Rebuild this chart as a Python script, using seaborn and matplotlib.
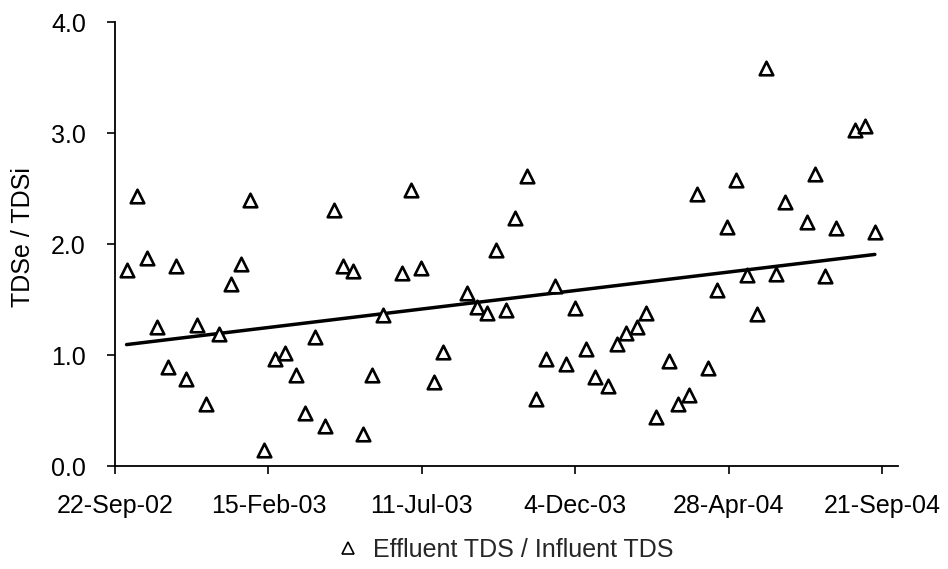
import datetime as dt

import matplotlib
matplotlib.use("Agg")
import matplotlib.pyplot as plt
import matplotlib.dates as mdates
from matplotlib.ticker import FixedLocator, FuncFormatter
import numpy as np
import pandas as pd
import seaborn as sns

# Sampling days, counted from 22 Sep 2002
start_date = dt.date(2002, 9, 22)
sample_day = [11, 21, 30, 40, 50, 58, 68, 78, 87, 99,
              110, 120, 128, 142, 152, 162, 172, 181, 190, 200,
              208, 217, 226, 236, 245, 255, 273, 282, 291, 304,
              312, 335, 344, 354, 363, 372, 381, 392, 401, 410,
              419, 429, 438, 448, 457, 469, 478, 486, 497, 505,
              515, 527, 536, 546, 554, 564, 573, 582, 591, 601,
              611, 619, 629, 638, 658, 666, 676, 686, 704, 714,
              723]

# Ratio of effluent to influent total dissolved solids
tds_ratio = [1.77, 2.43, 1.87, 1.25, 0.89, 1.80, 0.78, 1.27, 0.56, 1.19,
             1.64, 1.82, 2.40, 0.14, 0.96, 1.02, 0.82, 0.48, 1.16, 0.36,
             2.31, 1.80, 1.76, 0.29, 0.82, 1.36, 1.74, 2.49, 1.78, 0.76,
             1.03, 1.56, 1.43, 1.38, 1.95, 1.41, 2.23, 2.61, 0.60, 0.96,
             1.62, 0.92, 1.42, 1.05, 0.80, 0.72, 1.10, 1.20, 1.25, 1.38,
             0.44, 0.95, 0.56, 0.64, 2.45, 0.88, 1.59, 2.15, 2.58, 1.72,
             1.37, 3.59, 1.73, 2.38, 2.20, 2.63, 1.71, 2.14, 3.03, 3.06,
             2.11]

tick_dates = ["2002-09-22", "2003-02-15", "2003-07-11",
              "2003-12-04", "2004-04-28", "2004-09-21"]
y_ticks = [0.0, 1.0, 2.0, 3.0, 4.0]
series_label = "Effluent TDS / Influent TDS"
y_label = "TDSe / TDSi"

sns.set_theme(style="white")
plt.rcParams["font.family"] = ["Liberation Sans", "DejaVu Sans"]

dates = [start_date + dt.timedelta(days=d) for d in sample_day]
df = pd.DataFrame({"date": mdates.date2num(dates), "ratio": tds_ratio})

fig = plt.figure(figsize=(9.48, 5.69), dpi=100)
ax = fig.add_axes([0.1213, 0.1810, 0.8259, 0.7803])

sns.scatterplot(data=df, x="date", y="ratio", ax=ax, marker="^", s=95,
                facecolor="white", edgecolor="black", linewidth=1.9,
                label=series_label, zorder=3, legend=False)
sns.regplot(data=df, x="date", y="ratio", ax=ax, scatter=False, ci=None,
            truncate=True, line_kws={"color": "black", "lw": 2.5, "zorder": 2})

x0 = mdates.date2num(start_date)
ax.set_xlim(x0, x0 + 745)
ax.set_ylim(0, 4.0)

ax.xaxis.set_major_locator(FixedLocator(mdates.date2num(pd.to_datetime(tick_dates))))
ax.xaxis.set_major_formatter(FuncFormatter(
    lambda v, pos: (lambda d: f"{d.day}-{d:%b-%y}")(mdates.num2date(v))))
ax.yaxis.set_major_locator(FixedLocator(y_ticks))
ax.yaxis.set_major_formatter(FuncFormatter(lambda v, pos: f"{v:.1f}"))

for side in ("top", "right"):
    ax.spines[side].set_visible(False)
for side in ("left", "bottom"):
    ax.spines[side].set_color("black")
    ax.spines[side].set_linewidth(1.3)

ax.tick_params(axis="both", which="major", direction="out", length=6,
               width=1.2, color="black", labelsize=18, labelcolor="black",
               bottom=True, left=True)
ax.tick_params(axis="y", pad=15)
ax.tick_params(axis="x", pad=14)
ax.set_xlabel("")
ax.set_ylabel(y_label, fontsize=18, color="black")
ax.yaxis.set_label_coords(-0.102, 0.516)

handle = plt.Line2D([], [], linestyle="none", marker="^", markersize=8,
                    markerfacecolor="white", markeredgecolor="black",
                    markeredgewidth=1.2)
fig.legend([handle], [series_label], loc="center",
           bbox_to_anchor=(0.534, 0.034), frameon=False, fontsize=18,
           handlelength=0.8, handletextpad=0.6, borderpad=0)

fig.savefig("out.png", dpi=100, facecolor="white")
